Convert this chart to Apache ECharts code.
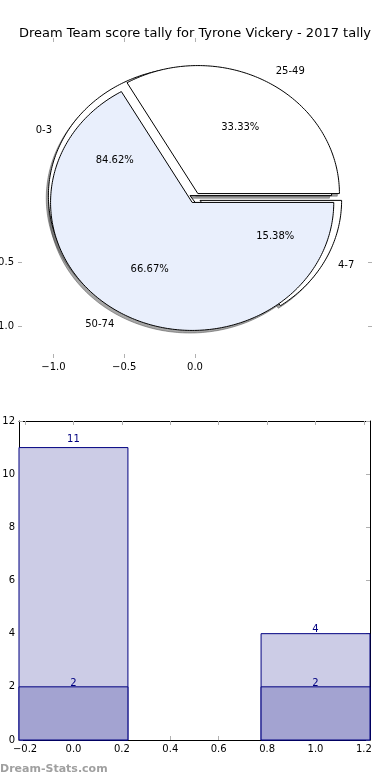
<!DOCTYPE html>
<html><head><meta charset="utf-8">
<script src="https://cdn.jsdelivr.net/npm/echarts@6/dist/echarts.min.js"></script>
<style>html,body{margin:0;padding:0;background:#fff}#c{width:390px;height:780px}</style>
</head><body><div id="c"></div>
<script>
const titleText = 'Dream Team score tally for Tyrone Vickery - 2017 tally';
const pieALabels = ['25-49', '50-74'];
const pieAValues = [1, 2];
const pieBLabels = ['0-3', '4-7'];
const pieBValues = [11, 2];
const pieTicksX = [-1.0, -0.5, 0.0];
const pieTicksY = [-0.5, -1.0];
const barPositions = [0, 1];
const barTotals = [11, 4];
const barSubset = [2, 2];
const barTicksX = [-0.2, 0, 0.2, 0.4, 0.6, 0.8, 1.0, 1.2];
const barTicksY = [0, 2, 4, 6, 8, 10, 12];

const FONT = 'DejaVu Sans';
const TICK = '#b0b0b0';
const BAR_W = 0.45;
const EXPLODE = 0.04;
const LABEL_LIFT = 1.02;

function buildWedges(values, labels, colors) {
  const total = values.reduce((a, b) => a + b, 0);
  let acc = 0;
  return values.map((v, i) => {
    const t1 = 360 * acc / total; acc += v; const t2 = 360 * acc / total;
    return { t1, t2, label: labels[i], pct: (100 * v / total).toFixed(2) + '%', color: colors[i], explode: EXPLODE };
  });
}
const wedgesB = buildWedges(pieBValues, pieBLabels, ['#ffffff', '#ffffff']);
const wedgesA = buildWedges(pieAValues, pieALabels, ['#ffffff', '#e9effc']);
const allWedges = wedgesB.concat(wedgesA);

function wedgeCenter(w) {
  const m = (w.t1 + w.t2) / 2 * Math.PI / 180;
  return [w.explode * Math.cos(m), w.explode * Math.sin(m)];
}
function wedgePoints(api, w, dx, dy) {
  const c = wedgeCenter(w);
  const pts = [api.coord([c[0] + dx, c[1] + dy])];
  const n = Math.max(2, Math.ceil(w.t2 - w.t1));
  for (let k = 0; k <= n; k++) {
    const a = (w.t1 + (w.t2 - w.t1) * k / n) * Math.PI / 180;
    pts.push(api.coord([c[0] + dx + Math.cos(a), c[1] + dy + Math.sin(a)]));
  }
  return pts;
}
function wedgeSeries(list, kind, z) {
  return {
    type: 'custom', xAxisIndex: 0, yAxisIndex: 0, z: z, silent: true, clip: false,
    data: list.map(() => [0, 0]),
    renderItem: function (params, api) {
      const w = list[params.dataIndex];
      if (kind === 'shadow') {
        return { type: 'polygon', shape: { points: wedgePoints(api, w, -0.015, -0.02) },
          style: { fill: 'rgba(77,77,77,0.5)', stroke: 'rgba(77,77,77,0.5)', lineWidth: 1 } };
      }
      if (kind === 'wedge') {
        return { type: 'polygon', shape: { points: wedgePoints(api, w, 0, 0) },
          style: { fill: w.color, stroke: '#000', lineWidth: 1 } };
      }
      const c = wedgeCenter(w);
      const m = (w.t1 + w.t2) / 2 * Math.PI / 180;
      const lp = [c[0] + 1.1 * Math.cos(m), c[1] + 1.1 * Math.sin(m)];
      const pp = api.coord([c[0] + 0.6 * Math.cos(m), c[1] + 0.6 * Math.sin(m)]);
      const lpp = api.coord(lp);
      return { type: 'group', children: [
        { type: 'text', x: lpp[0], y: lpp[1], style: { text: w.label, fill: '#000', font: '10px ' + FONT, align: lp[0] > 0 ? 'left' : 'right', verticalAlign: 'middle' } },
        { type: 'text', x: pp[0], y: pp[1], style: { text: w.pct, fill: '#000', font: '10px ' + FONT, align: 'center', verticalAlign: 'middle' } }
      ] };
    }
  };
}
function barSeries(values, fill, z) {
  return {
    type: 'custom', xAxisIndex: 2, yAxisIndex: 2, z: z, silent: true,
    data: barPositions.map((x, i) => [x, values[i]]),
    renderItem: function (params, api) {
      const x = api.value(0), h = api.value(1);
      const p1 = api.coord([x - BAR_W / 2, h]);
      const p2 = api.coord([x + BAR_W / 2, 0]);
      const pc = api.coord([x, h * LABEL_LIFT]);
      return { type: 'group', children: [
        { type: 'rect', shape: { x: p1[0], y: p1[1], width: p2[0] - p1[0], height: p2[1] - p1[1] },
          style: { fill: fill, stroke: '#000080', lineWidth: 1 } },
        { type: 'text', x: pc[0], y: pc[1] - 2, style: { text: String(h), fill: '#000080', font: '10px ' + FONT, align: 'center', verticalAlign: 'middle' } }
      ] };
    }
  };
}
const fmt = v => v.toFixed(1).replace('-', '\u2212');
const lbl = (vals, f) => ({ customValues: vals, formatter: f, color: '#000', fontSize: 10, fontFamily: FONT, margin: 4 });
const tick = (vals) => ({ show: true, inside: true, length: 4, customValues: vals, lineStyle: { color: TICK, width: 1 } });

const chart = echarts.init(document.getElementById('c'), null, { renderer: 'canvas' });
chart.setOption({
  animation: false,
  backgroundColor: '#fff',
  title: { text: titleText, left: 'center', top: 22, textStyle: { fontSize: 13, fontWeight: 'normal', fontFamily: FONT, color: '#000' } },
  grid: [
    { left: 18, top: 38, width: 354, height: 320, containLabel: false, outerBoundsMode: 'none' },
    { left: 19, top: 421, width: 351, height: 319, containLabel: false, outerBoundsMode: 'none' }
  ],
  xAxis: [
    { gridIndex: 0, type: 'value', min: -1.25, max: 1.25, position: 'bottom', axisLine: { show: false, onZero: false }, axisTick: tick(pieTicksX), axisLabel: lbl(pieTicksX, fmt), splitLine: { show: false } },
    { gridIndex: 0, type: 'value', min: -1.25, max: 1.25, position: 'top', axisLine: { show: false, onZero: false }, axisTick: tick(pieTicksX), axisLabel: { show: false }, splitLine: { show: false } },
    { gridIndex: 1, type: 'value', min: -0.225, max: 1.225, position: 'bottom', axisLine: { show: true, onZero: false, lineStyle: { color: '#000', width: 1 } }, axisTick: tick(barTicksX), axisLabel: lbl(barTicksX, fmt), splitLine: { show: false } },
    { gridIndex: 1, type: 'value', min: -0.225, max: 1.225, position: 'top', axisLine: { show: true, onZero: false, lineStyle: { color: '#000', width: 1 } }, axisTick: tick(barTicksX), axisLabel: { show: false }, splitLine: { show: false } }
  ],
  yAxis: [
    { gridIndex: 0, type: 'value', min: -1.25, max: 1.25, position: 'left', axisLine: { show: false, onZero: false }, axisTick: tick(pieTicksY), axisLabel: lbl(pieTicksY, fmt), splitLine: { show: false } },
    { gridIndex: 0, type: 'value', min: -1.25, max: 1.25, position: 'right', axisLine: { show: false, onZero: false }, axisTick: tick(pieTicksY), axisLabel: { show: false }, splitLine: { show: false } },
    { gridIndex: 1, type: 'value', min: 0, max: 12, interval: 2, position: 'left', axisLine: { show: true, onZero: false, lineStyle: { color: '#000', width: 1 } }, axisTick: tick(barTicksY), axisLabel: lbl(barTicksY, v => String(v)), splitLine: { show: false } },
    { gridIndex: 1, type: 'value', min: 0, max: 12, interval: 2, position: 'right', axisLine: { show: true, onZero: false, lineStyle: { color: '#000', width: 1 } }, axisTick: tick(barTicksY), axisLabel: { show: false }, splitLine: { show: false } }
  ],
  series: [
    wedgeSeries(allWedges, 'shadow', 1),
    wedgeSeries(wedgesB, 'wedge', 2),
    wedgeSeries(wedgesA, 'wedge', 3),
    wedgeSeries(allWedges, 'text', 4),
    barSeries(barTotals, '#ccccE6', 2),
    barSeries(barSubset, '#a3a3d1', 3)
  ],
  graphic: [
    { type: 'text', left: 0, top: 764, style: { text: 'Dream-Stats.com', fill: '#a0a0a0', font: 'bold 11px ' + FONT } }
  ]
});
</script></body></html>
